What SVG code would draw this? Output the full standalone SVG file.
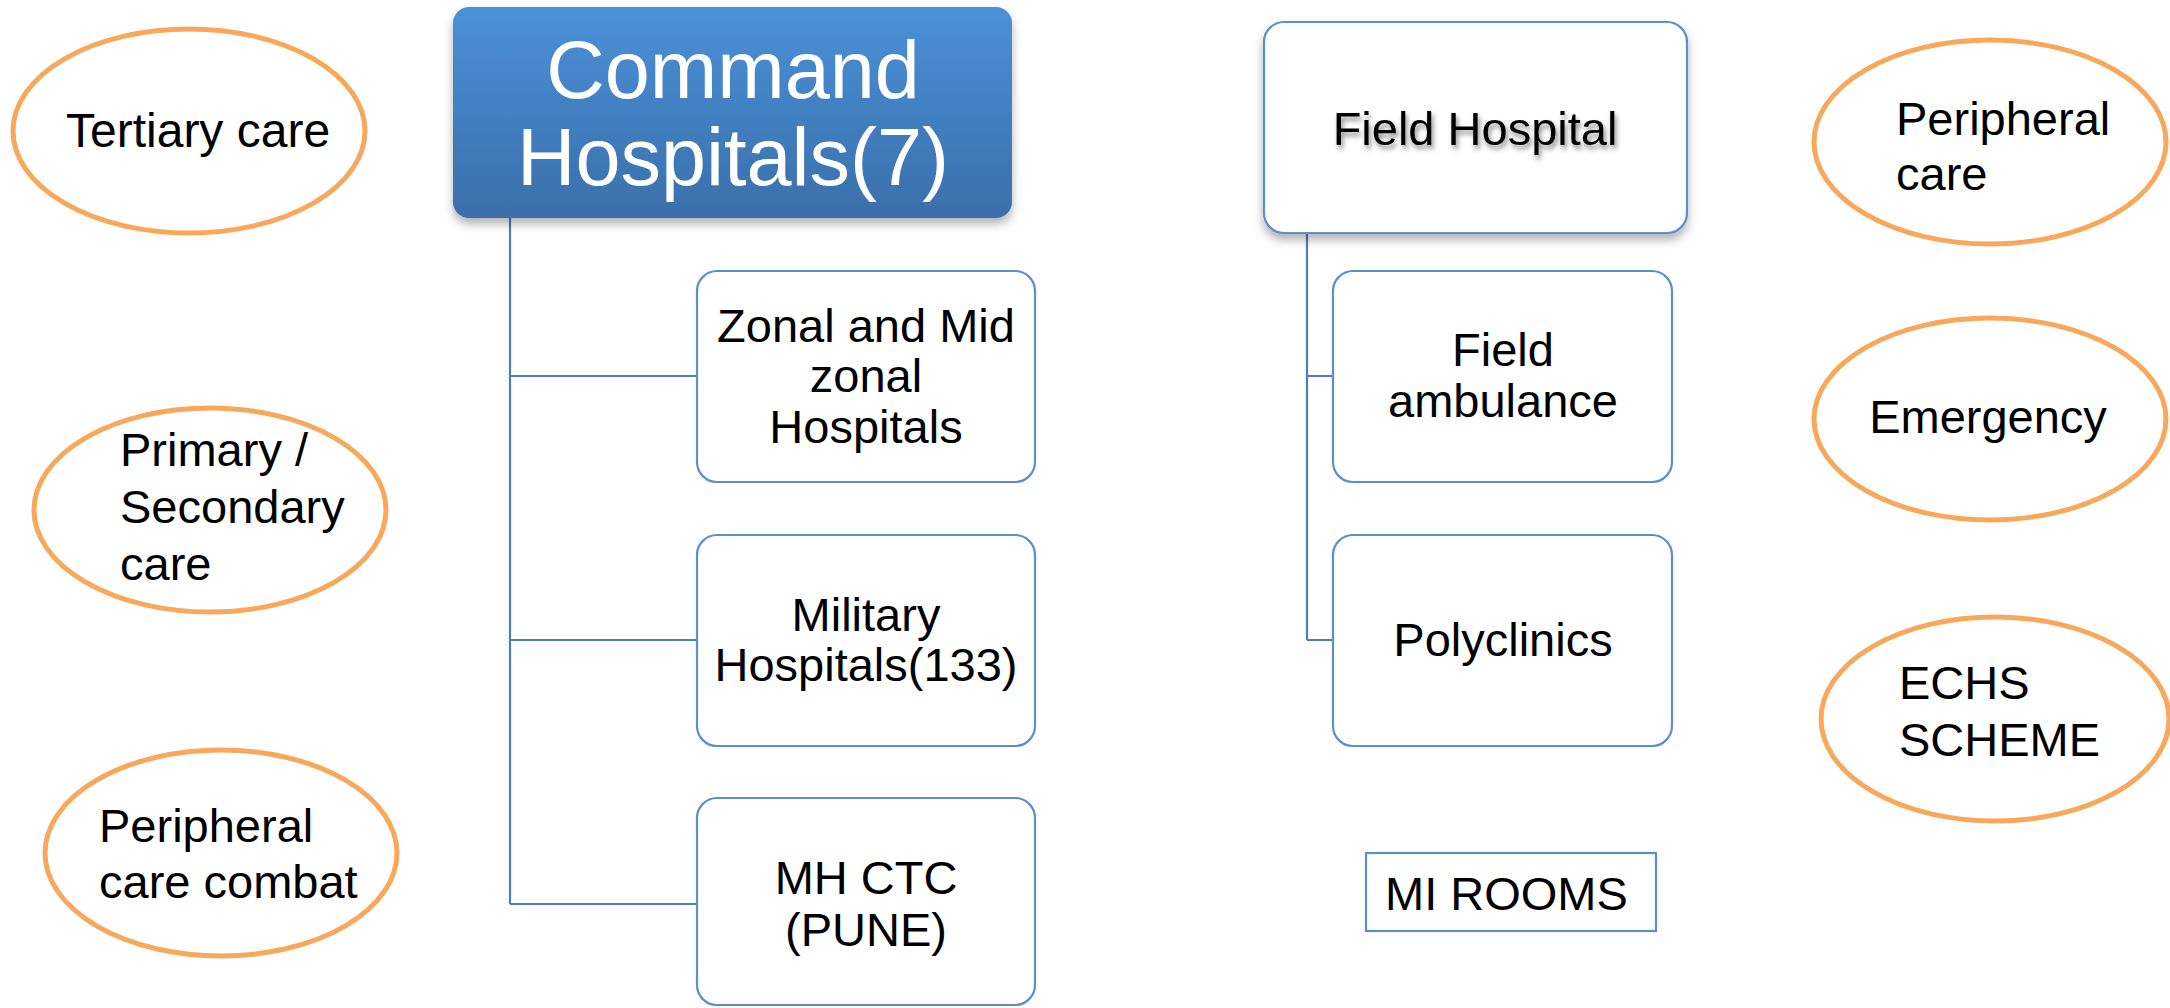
<svg xmlns="http://www.w3.org/2000/svg" width="2170" height="1008" viewBox="0 0 2170 1008">
<style>
.t{font-family:"Liberation Sans",Arial,sans-serif;font-size:47px;fill:#000}
.c{text-anchor:middle}
.oval{fill:#fff;stroke:#f8a85a;stroke-width:5}
.box{fill:#fff;stroke:#5b8ecb;stroke-width:2.2}
.ln{stroke:#4f7fba;stroke-width:2.2;fill:none}
</style>
<defs>
<linearGradient id="gb" x1="0" y1="0" x2="0" y2="1">
<stop offset="0" stop-color="#4a91d7"/>
<stop offset="1" stop-color="#3a6fab"/>
</linearGradient>
<filter id="sh" x="-10%" y="-10%" width="120%" height="130%">
<feDropShadow dx="0" dy="6" stdDeviation="5" flood-color="#000" flood-opacity="0.3"/>
</filter>
<filter id="tsh" x="-10%" y="-20%" width="120%" height="160%">
<feDropShadow dx="2" dy="4" stdDeviation="2.5" flood-color="#000" flood-opacity="0.45"/>
</filter>
</defs>
<rect width="2170" height="1008" fill="#fff"/>
<g id="connectors">
<path class="ln" d="M510 218 V904 M510 376 H697 M510 640 H697 M510 904 H697"/>
<path class="ln" d="M1307 233 V640 M1307 376 H1333 M1307 640 H1333"/>
</g>
<g id="tertiary">
<ellipse class="oval" cx="189" cy="131" rx="176" ry="102"/>
<text class="t" x="66" y="147" style="font-size:48px">Tertiary care</text>
</g>
<g id="primary">
<ellipse class="oval" cx="210" cy="510" rx="176" ry="102"/>
<text class="t" x="120" y="466">Primary /</text>
<text class="t" x="120" y="523">Secondary</text>
<text class="t" x="120" y="580">care</text>
</g>
<g id="peripheral-combat">
<ellipse class="oval" cx="221" cy="853" rx="176" ry="103"/>
<text class="t" x="99" y="842">Peripheral</text>
<text class="t" x="99" y="898">care combat</text>
</g>
<g id="command">
<rect x="453" y="7" width="559" height="211" rx="16" fill="url(#gb)" filter="url(#sh)"/>
<text class="t c" x="733" y="98" style="font-size:81px;fill:#fff">Command</text>
<text class="t c" x="733" y="185" style="font-size:81px;fill:#fff">Hospitals(7)</text>
</g>
<g id="zonal">
<rect class="box" x="697" y="271" width="338" height="211" rx="20"/>
<text class="t c" x="866" y="342">Zonal and Mid</text>
<text class="t c" x="866" y="392">zonal</text>
<text class="t c" x="866" y="443">Hospitals</text>
</g>
<g id="military">
<rect class="box" x="697" y="535" width="338" height="211" rx="20"/>
<text class="t c" x="866" y="631">Military</text>
<text class="t c" x="866" y="681">Hospitals(133)</text>
</g>
<g id="mhctc">
<rect class="box" x="697" y="798" width="338" height="207" rx="20"/>
<text class="t c" x="866" y="894">MH CTC</text>
<text class="t c" x="866" y="946">(PUNE)</text>
</g>
<g id="field-hospital">
<rect class="box" x="1264" y="22" width="423" height="211" rx="20" filter="url(#sh)"/>
<text class="t c" x="1475" y="145" filter="url(#tsh)">Field Hospital</text>
</g>
<g id="field-ambulance">
<rect class="box" x="1333" y="271" width="339" height="211" rx="20"/>
<text class="t c" x="1503" y="366">Field</text>
<text class="t c" x="1503" y="417">ambulance</text>
</g>
<g id="polyclinics">
<rect class="box" x="1333" y="535" width="339" height="211" rx="20"/>
<text class="t c" x="1503" y="656">Polyclinics</text>
</g>
<g id="mi-rooms">
<rect class="box" x="1366" y="853" width="290" height="78"/>
<text class="t" x="1385" y="910">MI ROOMS</text>
</g>
<g id="peripheral">
<ellipse class="oval" cx="1990" cy="142" rx="176" ry="102"/>
<text class="t" x="1896" y="135">Peripheral</text>
<text class="t" x="1896" y="190">care</text>
</g>
<g id="emergency">
<ellipse class="oval" cx="1990" cy="419" rx="176" ry="101"/>
<text class="t c" x="1988" y="433">Emergency</text>
</g>
<g id="echs">
<ellipse class="oval" cx="1995" cy="719" rx="174" ry="102"/>
<text class="t" x="1899" y="699">ECHS</text>
<text class="t" x="1899" y="756">SCHEME</text>
</g>
</svg>
